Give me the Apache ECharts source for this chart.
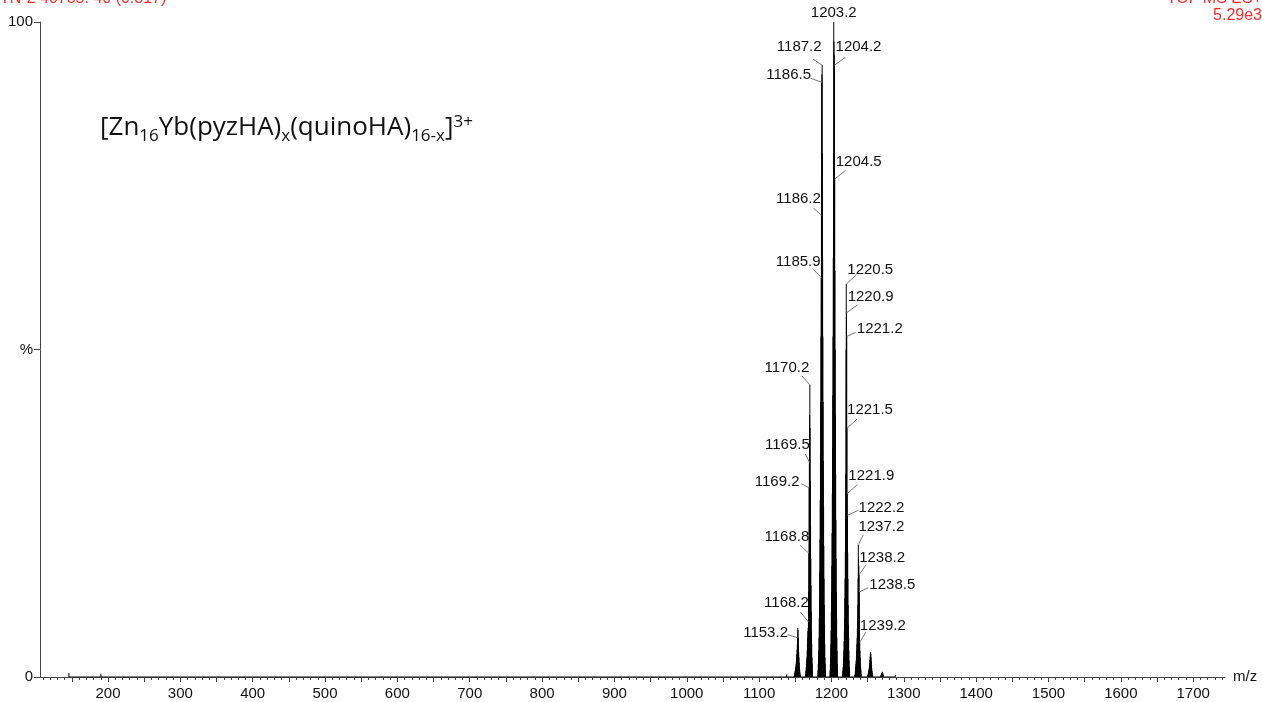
<!DOCTYPE html>
<html>
<head>
<meta charset="utf-8">
<title>ESI-TOF spectrum</title>
<script src="https://cdn.jsdelivr.net/npm/echarts@6/dist/echarts.min.js"></script>
<style>
  html, body { margin: 0; padding: 0; background: #fff; }
  #chart { width: 1262px; height: 702px; }
</style>
</head>
<body>
<div id="chart"></div>
<script>
// axis range (m/z) and tick labels
const mzMin = 106;
const mzMax = 1744;
const xLabels = [200, 300, 400, 500, 600, 700, 800, 900, 1000, 1100, 1200, 1300, 1400, 1500, 1600, 1700];
const yLabels = [0, 50, 100];

// isotope clusters of the 3+ ion: first peak m/z, then intensities (%) every 1/3 m/z
const isoStep = 1 / 3;
const clusterStarts = [1148.5, 1164.5, 1181.5, 1198.2, 1215.5, 1232.5, 1249.5, 1268.0];
const cluster1153 = [0.2, 0.3, 0.5, 0.7, 0.9, 1.1, 1.4, 1.7, 2, 2.5, 3, 3.5, 4.2, 5, 6, 7.5, 7.2, 6, 4.8, 3.8, 3, 2.2, 1.6, 1.1, 0.7, 0.4, 0.2];
const cluster1170 = [0.5, 1, 1.5, 2, 2.5, 3, 4, 5, 6, 7, 7.5, 8.4, 13, 18.9, 28.9, 32.8, 40, 44.6, 38, 30, 23, 18, 14, 10, 7, 5, 3, 2, 1];
const cluster1187 = [1, 2, 3, 4, 6, 9, 12, 16, 21, 27, 34, 42, 52, 61, 70.5, 90.8, 92, 93.4, 80, 64, 52, 42, 33, 26, 20, 15, 11, 8, 5, 3, 2, 1];
const cluster1203 = [1, 2, 3, 5, 7, 10, 13, 17, 22, 28, 35, 43, 52, 64, 80, 100, 97, 95, 93.4, 76, 62, 50, 40, 31, 24, 18, 13, 9, 6, 4, 2, 1];
const cluster1220 = [0.5, 1, 1.5, 2, 3, 4, 5.5, 7, 9, 12, 15, 19, 24, 31, 50, 60, 55.6, 52, 38, 28, 24.7, 19, 15, 11, 8, 6, 4, 2.5, 1.5, 1];
const cluster1237 = [0.3, 0.5, 1, 1.5, 2, 2.5, 3, 4, 5, 6, 7.5, 9, 11, 15, 20.2, 18, 17, 15.6, 13, 9, 5.3, 4, 3, 2, 1.5, 1, 0.5];
const cluster1254 = [0.1, 0.2, 0.3, 0.4, 0.5, 0.7, 0.9, 1.1, 1.4, 1.7, 2.1, 2.6, 3.1, 3.6, 3.8, 3.5, 3, 2.4, 1.8, 1.3, 0.9, 0.6, 0.4, 0.2, 0.1];
const cluster1271 = [0.1, 0.2, 0.3, 0.4, 0.5, 0.6, 0.7, 0.8, 0.7, 0.6, 0.5, 0.3, 0.2, 0.1];
const clusters = [cluster1153, cluster1170, cluster1187, cluster1203, cluster1220, cluster1237, cluster1254, cluster1271];

// small isolated peaks [m/z, %]
const minorPeaks = [[146.1, 0.6], [190.2, 0.5], [1137.9, 0.3], [1138.2, 0.4], [1288.3, 0.3]];

// labelled peaks [m/z, %]
const peakLabels = [
  [1203.2, 100], [1187.2, 93.4], [1204.2, 93.4], [1186.5, 90.8], [1204.5, 76],
  [1186.2, 70.5], [1185.9, 61], [1220.5, 60], [1220.9, 55.6], [1221.2, 52],
  [1170.2, 44.6], [1221.5, 38], [1169.5, 32.8], [1169.2, 28.9], [1221.9, 28],
  [1222.2, 24.7], [1237.2, 20.2], [1168.8, 18.9], [1238.2, 15.6], [1238.5, 13],
  [1168.2, 8.4], [1239.2, 5.3], [1153.2, 6]
];
// label centre offsets in px from the peak top
const labelOffsets = [
  [0, -9], [-23, -18], [24, -18], [-33, -7], [24, -17],
  [-23, -16], [-23, -16], [24, -14], [24, -16], [33, -8],
  [-23, -17], [23, -18], [-22, -17], [-32, -6], [24, -18],
  [34, -7], [23, -18], [-22, -16], [23, -17], [33, -7],
  [-22, -19], [23, -16], [-32, -5]
];
// leader line end in px from the peak top
const leaderEnds = [
  [0, 0], [-9, -6], [11, -8], [-11, -4], [11, -9],
  [-8, -7], [-9, -9], [10, -9], [11, -8], [9, -4],
  [-8, -9], [10, -9], [-4, -8], [-8, -4], [10, -9],
  [11, -5], [5, -10], [-9, -8], [7, -10], [9, -4],
  [-8, -10], [6, -10], [-10, -3]
];

// profile trace: each peak as a narrow spike
const profile = [];
function addPeak(mz, h) {
  profile.push([mz - 0.15, 0], [mz, h], [mz + 0.15, 0], [mz, null]);
}
minorPeaks.forEach(p => addPeak(p[0], p[1]));
clusters.forEach((c, k) => {
  c.forEach((h, i) => addPeak(clusterStarts[k] + i * isoStep, h));
});
profile.sort((a, b) => a[0] - b[0]);

const ticks50 = [];
for (let v = 150; v <= 1700; v += 50) ticks50.push(v);
const ticks10 = [];
for (let v = 110; v <= 1740; v += 10) ticks10.push(v);

const font = "'Liberation Sans', Arial, sans-serif";
const red = '#ff2b2b';
const formulaFont = "'Open Sans', sans-serif";

const chart = echarts.init(document.getElementById('chart'));
chart.setOption({
  animation: false,
  grid: { left: 40, right: 37, top: 22, bottom: 25 },
  xAxis: [
    {
      type: 'value', min: mzMin, max: mzMax,
      name: 'm/z', nameLocation: 'end', nameGap: 8,
      nameTextStyle: { color: '#111', fontSize: 15, fontFamily: font, verticalAlign: 'middle' },
      axisLine: { show: true, lineStyle: { color: '#444', width: 1 } },
      axisTick: { show: true, customValues: ticks50, length: 5, lineStyle: { color: '#444' } },
      axisLabel: {
        customValues: xLabels, color: '#111', fontSize: 15, fontFamily: font, margin: 9,
        formatter: v => String(v)
      },
      splitLine: { show: false }
    },
    {
      type: 'value', min: mzMin, max: mzMax, position: 'bottom',
      axisLine: { show: false },
      axisTick: { show: true, customValues: ticks10, length: 3, lineStyle: { color: '#444' } },
      axisLabel: { show: false },
      splitLine: { show: false }
    }
  ],
  yAxis: {
    type: 'value', min: 0, max: 100,
    axisLine: { show: true, lineStyle: { color: '#444', width: 1 } },
    axisTick: { show: true, customValues: yLabels, length: 6, lineStyle: { color: '#444' } },
    axisLabel: {
      customValues: yLabels, color: '#111', fontSize: 15, fontFamily: font, margin: 7,
      formatter: v => (v === 50 ? '%' : String(v))
    },
    splitLine: { show: false }
  },
  graphic: [
    {
      type: 'text', left: 0, top: -9,
      style: { text: 'TN-2 40785: 40 (0.817)', fill: red, font: '16px ' + font }
    },
    {
      type: 'text', right: 0, top: -9,
      style: { text: 'TOF MS ES+', fill: red, font: '16px ' + font, align: 'right' }
    },
    {
      type: 'text', right: 0, top: 8,
      style: { text: '5.29e3', fill: red, font: '16px ' + font, align: 'right' }
    },
    {
      type: 'text', left: 100, top: 111,
      style: {
        text: '[Zn{sub|16}Yb(pyzHA){sub|x}(quinoHA){sub|16-x}]{sup|3+}',
        fill: '#111', fontSize: 26, fontFamily: formulaFont, lineHeight: 34,
        rich: {
          sub: { fontSize: 17, fontFamily: formulaFont, lineHeight: 17, verticalAlign: 'bottom', fill: '#111' },
          sup: { fontSize: 17, fontFamily: formulaFont, lineHeight: 17, verticalAlign: 'top', padding: [3, 0, 0, 0], fill: '#111' }
        }
      }
    }
  ],
  series: [
    {
      type: 'line',
      data: profile,
      symbol: 'none',
      connectNulls: false,
      lineStyle: { color: '#000', width: 1 },
      areaStyle: { color: '#000', opacity: 1 },
      z: 3
    },
    {
      type: 'custom',
      data: peakLabels,
      encode: { x: 0, y: 1 },
      z: 5,
      renderItem: (params, api) => {
        const i = params.dataIndex;
        const pt = api.coord([api.value(0), api.value(1)]);
        const lo = labelOffsets[i];
        const le = leaderEnds[i];
        const children = [{
          type: 'text',
          x: pt[0] + lo[0], y: pt[1] + lo[1],
          style: {
            text: api.value(0).toFixed(1), fill: '#111', font: '15px ' + font,
            align: 'center', verticalAlign: 'middle'
          }
        }];
        if (le[0] !== 0 || le[1] !== 0) {
          children.push({
            type: 'line',
            shape: { x1: pt[0], y1: pt[1], x2: pt[0] + le[0], y2: pt[1] + le[1] },
            style: { stroke: '#777', lineWidth: 1 }
          });
        }
        return { type: 'group', children };
      }
    }
  ]
});
</script>
</body>
</html>
